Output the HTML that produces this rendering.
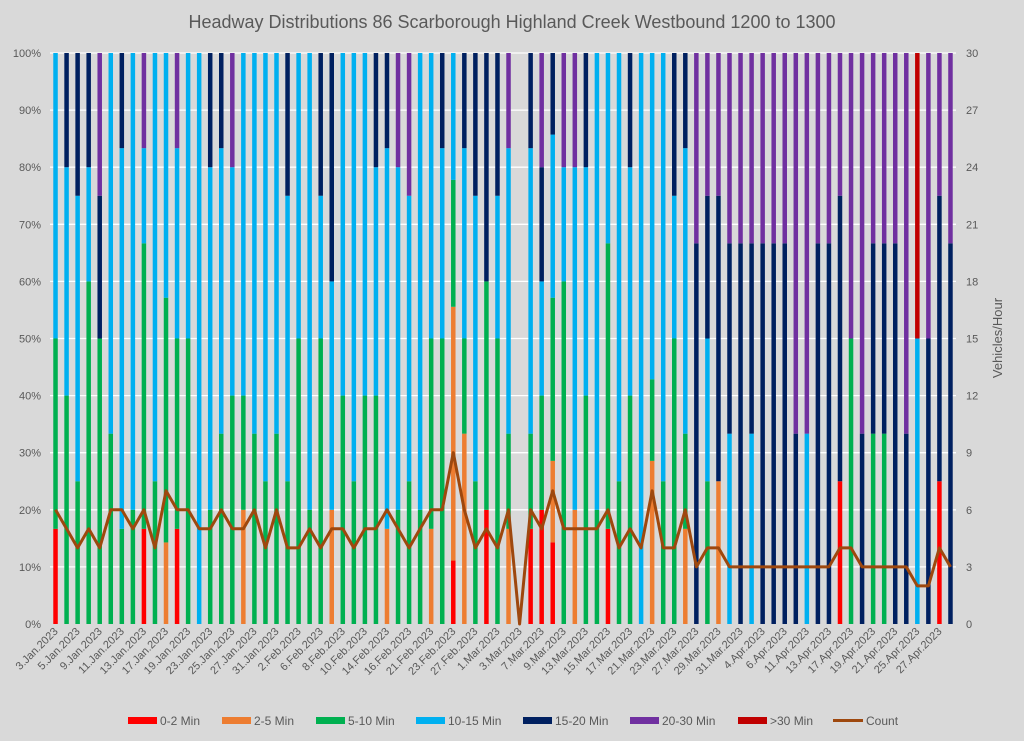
<!DOCTYPE html>
<html><head><meta charset="utf-8">
<style>
html,body{margin:0;padding:0;background:#d9d9d9;}
svg{display:block;font-family:"Liberation Sans",sans-serif;}
</style></head>
<body>
<svg id="chart" width="1024" height="741" viewBox="0 0 1024 741">
<rect x="0" y="0" width="1024" height="741" fill="#d9d9d9"/>
<text x="512" y="28" text-anchor="middle" font-size="18" fill="#595959">Headway Distributions 86 Scarborough  Highland Creek Westbound 1200 to 1300</text>
<g id="grid"></g>
<g id="bars"></g>
<g id="line"></g>
<g id="axes"></g>
<text transform="translate(1002,338) rotate(-90)" text-anchor="middle" font-size="13" fill="#595959">Vehicles/Hour</text>
<g id="legend"></g>
</svg>
<script>
const categories = ["3.Jan","4.Jan","5.Jan","6.Jan","9.Jan","10.Jan","11.Jan","12.Jan","13.Jan","16.Jan","17.Jan","18.Jan","19.Jan","20.Jan","23.Jan","24.Jan","25.Jan","26.Jan","27.Jan","30.Jan","31.Jan","1.Feb","2.Feb","3.Feb","6.Feb","7.Feb","8.Feb","9.Feb","10.Feb","13.Feb","14.Feb","15.Feb","16.Feb","17.Feb","21.Feb","22.Feb","23.Feb","24.Feb","27.Feb","28.Feb","1.Mar","2.Mar","3.Mar","6.Mar","7.Mar","8.Mar","9.Mar","10.Mar","13.Mar","14.Mar","15.Mar","16.Mar","17.Mar","20.Mar","21.Mar","22.Mar","23.Mar","24.Mar","27.Mar","28.Mar","29.Mar","30.Mar","31.Mar","3.Apr","4.Apr","5.Apr","6.Apr","10.Apr","11.Apr","12.Apr","13.Apr","14.Apr","17.Apr","18.Apr","19.Apr","20.Apr","21.Apr","24.Apr","25.Apr","26.Apr","27.Apr","28.Apr"];
const red    = [1,0,0,0,0,0,0,0,1,0, 0,1,0,0,0,0,0,0,0,0, 0,0,0,0,0,0,0,0,0,0, 0,0,0,0,0,0,1,0,0,1, 0,0,0,1,1,1,0,0,0,0, 1,0,0,0,0,0,0,0,0,0, 0,0,0,0,0,0,0,0,0,0, 0,1,0,0,0,0,0,0,0,0, 1,0];
const orange = [0,0,0,0,0,0,0,0,0,0, 1,0,0,0,0,0,0,1,0,0, 0,0,0,0,0,1,0,0,0,0, 1,0,0,0,1,0,4,2,0,0, 0,1,0,0,0,1,0,1,0,0, 0,0,0,0,2,0,0,1,0,0, 1,0,0,0,0,0,0,0,0,0, 0,0,0,0,0,0,0,0,0,0, 0,0];
const green  = [2,2,1,3,2,2,1,1,3,1, 3,2,3,0,1,2,2,1,2,1, 2,1,2,1,2,0,2,1,2,2, 0,1,1,1,2,3,2,1,1,2, 2,1,0,1,1,2,3,0,2,1, 3,1,2,0,1,1,2,1,0,1, 0,0,0,0,0,0,0,0,0,0, 0,0,2,0,1,1,0,0,0,0, 0,0];
const cyan   = [3,2,2,1,0,4,4,4,1,3, 3,2,3,5,3,3,2,3,4,3, 4,2,2,4,1,2,3,3,3,2, 4,3,2,4,3,2,2,2,2,0, 1,3,0,3,1,2,1,3,2,4, 2,3,2,4,4,3,1,3,0,1, 0,1,0,1,0,0,0,0,1,0, 0,0,0,0,0,0,0,0,1,0, 0,0];
const navy   = [0,1,1,1,1,0,1,0,0,0, 0,0,0,0,1,1,0,0,0,0, 0,1,0,0,1,2,0,0,0,1, 1,0,0,0,0,1,0,1,1,2, 1,0,0,1,1,1,0,0,1,0, 0,0,1,0,0,0,1,1,2,1, 2,1,2,1,2,2,2,1,0,2, 2,2,0,1,1,1,2,1,0,1, 2,2];
const purple = [0,0,0,0,1,0,0,0,1,0, 0,1,0,0,0,0,1,0,0,0, 0,0,0,0,0,0,0,0,0,0, 0,1,1,0,0,0,0,0,0,0, 0,1,0,0,1,0,1,1,0,0, 0,0,0,0,0,0,0,0,1,1, 1,1,1,1,1,1,1,2,2,1, 1,1,2,2,1,1,1,2,0,1, 1,1];
const over30 = [0,0,0,0,0,0,0,0,0,0, 0,0,0,0,0,0,0,0,0,0, 0,0,0,0,0,0,0,0,0,0, 0,0,0,0,0,0,0,0,0,0, 0,0,0,0,0,0,0,0,0,0, 0,0,0,0,0,0,0,0,0,0, 0,0,0,0,0,0,0,0,0,0, 0,0,0,0,0,0,0,0,1,0, 0,0];
const pctTicks = ["0%","10%","20%","30%","40%","50%","60%","70%","80%","90%","100%"];
const countTicks = [0,3,6,9,12,15,18,21,24,27,30];
const seriesNames = ["0-2 Min","2-5 Min","5-10 Min","10-15 Min","15-20 Min","20-30 Min",">30 Min"];

const NS="http://www.w3.org/2000/svg";
const N = categories.length;
const series=[red,orange,green,cyan,navy,purple,over30];
const colors=["#ff0000","#ed7d31","#00b050","#00b0f0","#002060","#7030a0","#c00000"];
const X0=50, X1=956, Y0=624, Y1=53;
const step=(X1-X0)/N;
const xC=i=>X0+step*(i+0.5);
const yP=p=>Y0-p*(Y0-Y1);
const yCnt=c=>Y0-c/30*(Y0-Y1);
function mk(tag,attrs,parent){const e=document.createElementNS(NS,tag);for(const k in attrs)e.setAttribute(k,attrs[k]);parent.appendChild(e);return e;}
const grid=document.getElementById('grid'),bars=document.getElementById('bars'),line=document.getElementById('line'),axes=document.getElementById('axes'),legend=document.getElementById('legend');
pctTicks.forEach((t,i)=>{
  const y=yP(i/10);
  if(i>0){const g=mk('line',{x1:X0,x2:X1,y1:y,y2:y,stroke:'#ffffff','stroke-width':1.3},grid);
  
  }
  const tx=mk('text',{x:41,y:y+4,'text-anchor':'end','font-size':11,fill:'#595959'},axes);
  tx.textContent=t;
  
  
});
countTicks.forEach(c=>{
  const tx=mk('text',{x:966,y:yCnt(c)+4,'text-anchor':'start','font-size':11,fill:'#595959'},axes);
  tx.textContent=c;
  
  
});
const bw=4.5;
for(let i=0;i<N;i++){
  const tot=series.reduce((a,s)=>a+s[i],0);
  let acc=0;
  if(tot>0) series.forEach((s,k)=>{
    if(s[i]>0){
      const ya=yP(acc/tot), yb=yP((acc+s[i])/tot);
      const r=mk('rect',{x:xC(i)-bw/2,y:yb,width:bw,height:ya-yb,fill:colors[k]},bars);
      
      
      acc+=s[i];
    }
  });
  if(i%2===0){
    const tx=mk('text',{transform:`translate(${xC(i)+3},${Y0+8}) rotate(-45)`,'text-anchor':'end','font-size':11,fill:'#595959'},axes);
    tx.textContent=categories[i]+".2023";
    
    
  }
}
const pts=[];
for(let i=0;i<N;i++){const tot=series.reduce((a,s)=>a+s[i],0);pts.push(xC(i).toFixed(1)+","+yCnt(tot).toFixed(1));}
const pl=mk('polyline',{points:pts.join(' '),fill:'none',stroke:'#9e480e','stroke-width':3,'stroke-linejoin':'round'},line);


const legX=[128,222,316,416,523,630,738];
seriesNames.forEach((n,k)=>{
  const r=mk('rect',{x:legX[k],y:717,width:29,height:7,fill:colors[k]},legend);
  
  
  const t=mk('text',{x:legX[k]+32,y:725,'font-size':12,fill:'#595959'},legend);
  t.textContent=n;
  
  
});
const ll=mk('line',{x1:833,x2:863,y1:720.5,y2:720.5,stroke:'#9e480e','stroke-width':3},legend);


const lt=mk('text',{x:866,y:725,'font-size':12,fill:'#595959'},legend);
lt.textContent="Count";


</script>
</body></html>
